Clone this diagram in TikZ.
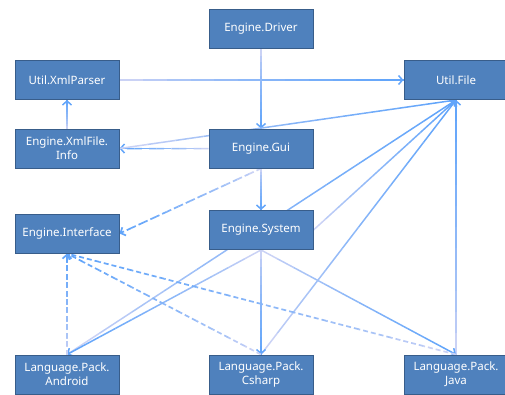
\documentclass[tikz,border=0pt]{standalone}
\usepackage{fontspec}
\setmainfont{Noto Sans}
\usepackage{tikz}
\usetikzlibrary{positioning, arrows.meta, calc, backgrounds}
\definecolor{boxfill}{HTML}{4F81BD}
\definecolor{boxline}{HTML}{385D8A}
\definecolor{linkblue}{HTML}{62A5FA}
\definecolor{linkpink}{HTML}{F3E3F3}

% connector that fades from pink (source) to blue (target)
\newcommand{\fadelink}[3][]{%
  \foreach \k in {1,...,12}{%
    \pgfmathtruncatemacro{\mixval}{100*sqrt(\k/12)}%
    \draw[lnk, #1, draw=linkblue!\mixval!linkpink] ($(#2)!{(\k-1)/12}!(#3)$) -- ($(#2)!{\k/12}!(#3)$);
  }%
  \draw[lnk, #1, solid, draw=linkblue, -{Straight Barb[length=4pt, width=9pt]}] ($(#3)!3pt!(#2)$) -- (#3);%
}

\begin{document}
\begin{tikzpicture}[
  x=1pt, y=-1pt,
  box/.style={rectangle, draw=boxline, fill=boxfill, line width=1pt, minimum width=104pt, minimum height=39pt, align=center, inner sep=2pt, text=white, font=\fontsize{11.5}{14}\selectfont},
  lnk/.style={line width=1.5pt, line cap=butt},
  dlnk/.style={line width=1.7pt, dash pattern=on 5pt off 3pt}
]
\useasboundingbox (0,0) rectangle (505,394);

\node[box] (driver) at (261,29)      {Engine.Driver};
\node[box] (xmlparser) at (67,80)    {Util.XmlParser};
\node[box] (file) at (456,80)        {Util.File};
\node[box] (xmlinfo) at (67,148.5)   {Engine.XmlFile.\\Info};
\node[box] (gui) at (261,148.5)      {Engine.Gui};
\node[box] (iface) at (67,233.5)     {Engine.Interface};
\node[box] (system) at (261,230)     {Engine.System};
\node[box] (android) at (67,374.5)   {Language.Pack.\\Android};
\node[box] (csharp) at (261,374.5)   {Language.Pack.\\Csharp};
\node[box] (java) at (456,374.5)     {Language.Pack.\\Java};

\begin{scope}[on background layer]
  \fadelink{driver.south}{gui.north}
  \fadelink{xmlparser.east}{file.west}
  \fadelink{xmlinfo.north}{xmlparser.south}
  \fadelink{gui.west}{xmlinfo.east}
  \fadelink{xmlinfo.east}{file.south}
  \fadelink{gui.south}{system.north}
  \fadelink[dlnk]{gui.south}{iface.east}

  \fadelink{android.north}{file.south}
  \fadelink{system.east}{file.south}
  \fadelink{csharp.north}{file.south}
  \fadelink{java.north}{file.south}

  \fadelink{system.south}{android.north}
  \fadelink{system.south}{csharp.north}
  \fadelink{system.south}{java.north}

  \fadelink[dlnk]{android.north}{iface.south}
  \fadelink[dlnk]{csharp.north}{iface.south}
  \fadelink[dlnk]{java.north}{iface.south}
\end{scope}

\end{tikzpicture}
\end{document}
